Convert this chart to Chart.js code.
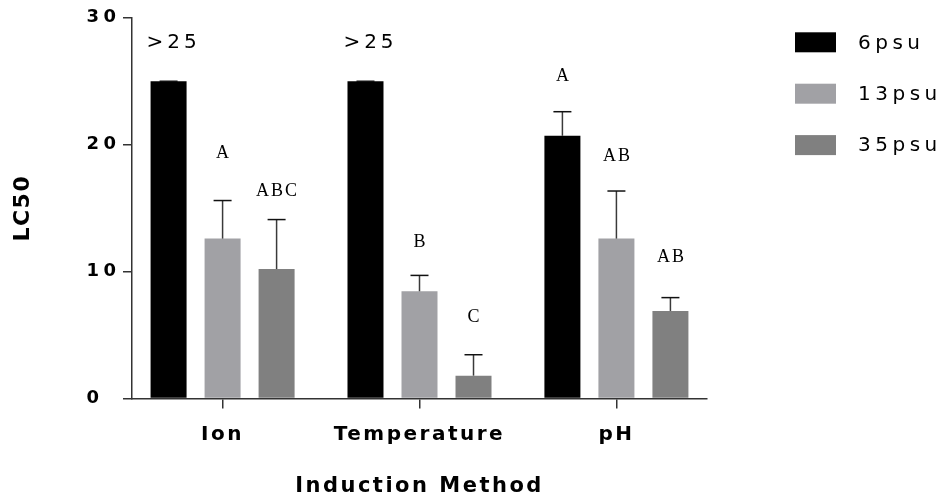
<!DOCTYPE html>
<html>
<head>
<meta charset="utf-8">
<script src="https://cdn.jsdelivr.net/npm/chart.js@4.4.1/dist/chart.umd.min.js"></script>
<style>
html,body{margin:0;padding:0;background:#fff;}
#wrap{width:942px;height:502px;position:relative;}
</style>
</head>
<body>
<div id="wrap"><canvas id="c" width="942" height="502"></canvas></div>
<script>
// ---- data ----
const categories = ['Ion', 'Temperature', 'pH'];
const seriesNames = ['6psu', '13psu', '35psu'];
const lc50_6psu  = [25.0, 25.0, 20.7];
const lc50_13psu = [12.6, 8.45, 12.6];
const lc50_35psu = [10.2, 1.8, 6.9];
const err_6psu  = [0, 0, 1.9];
const err_13psu = [3.0, 1.25, 3.75];
const err_35psu = [3.9, 1.65, 1.05];
const yTicks = [0, 10, 20, 30];
// significance letters and the value level at which each is written
const letters_6psu  = ['>25', '>25', 'A'];
const letters_13psu = ['A', 'B', 'AB'];
const letters_35psu = ['ABC', 'C', 'AB'];
const letterLevel_6psu  = [28.0, 28.0, 25.4];
const letterLevel_13psu = [19.3, 12.3, 19.1];
const letterLevel_35psu = [16.3, 6.4, 11.1];

const values = [lc50_6psu, lc50_13psu, lc50_35psu];
const errors = [err_6psu, err_13psu, err_35psu];
const letters = [letters_6psu, letters_13psu, letters_35psu];
const letterLevels = [letterLevel_6psu, letterLevel_13psu, letterLevel_35psu];
const colors = ['#000000', '#a1a1a5', '#808080'];

const datasets = seriesNames.map((name, s) => ({
  label: name,
  data: values[s].map((v, i) => ({x: i, y: v})),
  backgroundColor: colors[s],
  borderWidth: 0
}));

function withSpacing(ctx, sp, fn) {
  ctx.save();
  if ('letterSpacing' in ctx) ctx.letterSpacing = sp + 'px';
  fn();
  ctx.restore();
}

const spacingPlugin = {
  id: 'spacing',
  afterLayout(chart) {
    const ctx = chart.ctx;
    const cfg = {x: {ticks: 2.5, title: 2.5}, y: {ticks: 4.5, title: 1.5}};
    Object.keys(cfg).forEach(id => {
      const s = chart.scales[id];
      if (!s || s._wrapped) return;
      s._wrapped = true;
      const dl = s.drawLabels.bind(s);
      const dt = s.drawTitle.bind(s);
      s.drawLabels = (ca) => withSpacing(ctx, cfg[id].ticks, () => dl(ca));
      s.drawTitle = () => withSpacing(ctx, cfg[id].title, () => dt());
      if (id === 'y') {
        const gl = s.getLabelItems.bind(s);
        s.getLabelItems = (ca) => {
          const items = gl(ca);
          const tl = s.options.grid.tickLength;
          const pad = s.options.ticks.padding;
          const widest = s._getLabelSizes().widest.width;
          const leftX = s.right - tl - pad - widest - cfg.y.ticks;
          items.forEach(it => {
            it.options.textAlign = 'left';
            it.options.translation = [leftX, it.options.translation[1]];
          });
          return items;
        };
      }
    });
  }
};

const errorBarPlugin = {
  id: 'errorBars',
  afterDatasetsDraw(chart) {
    const ctx = chart.ctx;
    const yScale = chart.scales.y;
    ctx.save();
    chart.data.datasets.forEach((ds, s) => {
      const meta = chart.getDatasetMeta(s);
      meta.data.forEach((bar, i) => {
        const v = values[s][i];
        const e = errors[s][i];
        const yTop = yScale.getPixelForValue(v + e);
        ctx.strokeStyle = '#3a3a3a';
        ctx.lineWidth = 1.5;
        ctx.beginPath();
        ctx.moveTo(bar.x, bar.y);
        ctx.lineTo(bar.x, yTop);
        ctx.stroke();
        ctx.strokeStyle = '#111';
        ctx.beginPath();
        ctx.moveTo(bar.x - 9, yTop);
        ctx.lineTo(bar.x + 9, yTop);
        ctx.stroke();
      });
    });
    // significance letters
    ctx.fillStyle = '#000';
    ctx.textAlign = 'center';
    ctx.textBaseline = 'middle';
    chart.data.datasets.forEach((ds, s) => {
      const meta = chart.getDatasetMeta(s);
      meta.data.forEach((bar, i) => {
        const txt = letters[s][i];
        const y = yScale.getPixelForValue(letterLevels[s][i]);
        const sans = txt.startsWith('>');
        withSpacing(ctx, sans ? 4 : 2, () => {
          ctx.font = sans ? '20px "DejaVu Sans"' : '18px "Liberation Serif"';
          ctx.fillText(txt, bar.x + (sans ? 5 : 1), y);
        });
      });
    });
    ctx.restore();
  }
};

const legendPlugin = {
  id: 'customLegend',
  afterDraw(chart) {
    const ctx = chart.ctx;
    ctx.save();
    chart.data.datasets.forEach((ds, s) => {
      const cy = 42.3 + s * 51.4;
      ctx.fillStyle = ds.backgroundColor;
      ctx.fillRect(795, cy - 10, 41, 20);
      withSpacing(ctx, 4.5, () => {
        ctx.fillStyle = '#000';
        ctx.font = '20px "DejaVu Sans"';
        ctx.textAlign = 'left';
        ctx.textBaseline = 'middle';
        ctx.fillText(ds.label, 858, cy + 1);
      });
    });
    ctx.restore();
  }
};

new Chart(document.getElementById('c'), {
  type: 'bar',
  data: {datasets},
  plugins: [spacingPlugin, errorBarPlugin, legendPlugin],
  options: {
    responsive: false,
    animation: false,
    devicePixelRatio: 1,
    layout: {padding: {left: 0, right: 235, top: 15, bottom: 0}},
    plugins: {legend: {display: false}, tooltip: {enabled: false}},
    datasets: {bar: {categoryPercentage: 0.8228, barPercentage: 0.6667}},
    scales: {
      x: {
        type: 'linear',
        min: -0.46,
        max: 2.46,
        offset: false,
        afterBuildTicks: (s) => { s.ticks = categories.map((c, i) => ({value: i})); },
        afterFit: (s) => { s.height = 103.5; },
        grid: {display: true, drawOnChartArea: false, drawTicks: true, tickLength: 10, color: '#333', lineWidth: 1.5, offset: false},
        border: {display: true, color: '#333', width: 1.5},
        ticks: {
          autoSkip: false, maxRotation: 0, minRotation: 0, padding: 14, color: '#000',
          font: {family: 'DejaVu Sans', size: 20, weight: 'bold'},
          callback: (v) => categories[v] !== undefined ? categories[v] : ''
        },
        title: {
          display: true, text: 'Induction Method', color: '#000',
          font: {family: 'DejaVu Sans', size: 21, weight: 'bold'},
          padding: {top: 0, bottom: 3}
        }
      },
      y: {
        min: 0,
        max: 30,
        afterBuildTicks: (s) => { s.ticks = yTicks.map(v => ({value: v})); },
        afterFit: (s) => { s.width = 132; },
        grid: {display: true, drawOnChartArea: false, drawTicks: true, tickLength: 9, color: '#333', lineWidth: 1.5},
        border: {display: true, color: '#333', width: 1.5},
        ticks: {
          padding: 7, color: '#000',
          font: {family: 'DejaVu Sans', size: 18, weight: 'bold'}
        },
        title: {
          display: true, text: 'LC50', color: '#000',
          font: {family: 'DejaVu Sans', size: 22, weight: 'bold'},
          padding: {top: 10, bottom: 0}
        }
      }
    }
  }
});
</script>
</body>
</html>
